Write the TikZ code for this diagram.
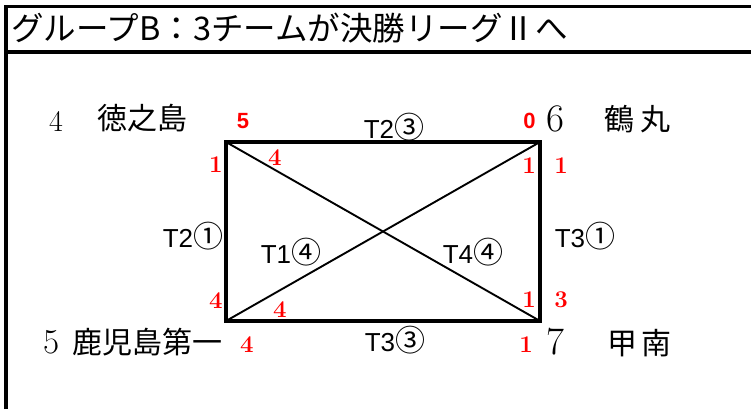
\documentclass[tikz,border=0pt]{standalone}
\usepackage{fontspec}
\newfontfamily\cjk{Noto Sans CJK JP}
\newfontfamily\arial{Liberation Sans}
\newcommand{\circd}[1]{{\cjk\fontsize{30}{30}\selectfont #1}}
\begin{document}
\begin{tikzpicture}[x=1pt,y=-1pt,
  frame/.style={line width=3.2pt},
  boxline/.style={line width=3.2pt, line join=miter},
  diag/.style={line width=1.9pt},
  score/.style={text=red, font=\fontsize{24}{24}\selectfont\bfseries, inner sep=0pt},
  scoresans/.style={text=red, font=\arial\fontsize{22}{22}\selectfont\bfseries, inner sep=0pt},
  team/.style={font=\cjk\fontsize{30}{30}\selectfont, inner sep=0pt},
  seed/.style={font=\fontsize{30}{30}\selectfont, inner sep=0pt},
  match/.style={font=\arial\fontsize{26}{26}\selectfont, inner sep=0pt},
  title/.style={font=\cjk\fontsize{32.5}{33}\selectfont, inner sep=0pt, anchor=west}]
\useasboundingbox (0,0) rectangle (751,409);
% frame
\draw[frame] (6,409) -- (6,6.5) -- (751,6.5);
\draw[frame] (6,52) -- (751,52);
\node[title] (ttl) at (11,28) {グループB：3チームが決勝リーグⅡへ};
% corners
\coordinate (tl) at (226,142);
\coordinate (tr) at (540,142);
\coordinate (br) at (540,321);
\coordinate (bl) at (226,321);
\draw[boxline] (tl) -- (tr) -- (br) -- (bl) -- cycle;
\draw[diag] (tl) -- (br);
\draw[diag] (tr) -- (bl);
% teams
\node[seed] (s4) at (56,121) {4};
\node[team] (n4) at (142,118) {徳之島};
\node[seed, font=\fontsize{39}{39}\selectfont] (s6) at (555,119) {6};
\node[team] (n6) at (637,119) {鶴\hspace{6pt}丸};
\node[seed, font=\fontsize{35}{35}\selectfont] (s5) at (52,342) {5};
\node[team] (n5) at (147,342) {鹿児島第一};
\node[seed, font=\fontsize{39}{39}\selectfont] (s7) at (555,342) {7};
\node[team] (n7) at (639,343) {甲\hspace{4pt}南};
% matches
\node[match] (m1) at (394,127) {T2\circd{③}};
\node[match] (m2) at (193,236) {T2\circd{①}};
\node[match] (m3) at (291,252) {T1\circd{④}};
\node[match] (m4) at (473,252) {T4\circd{④}};
\node[match] (m5) at (585,236) {T3\circd{①}};
\node[match] (m6) at (395,340) {T3\circd{③}};
% scores
\node[scoresans] (a1) at (243,121) {5};
\node[scoresans] (a2) at (529.5,121) {0};
\node[score] (a3) at (216,165) {1};
\node[score] (a4) at (275,158) {4};
\node[score] (a5) at (529,166) {1};
\node[score] (a6) at (561,166) {1};
\node[score] (a7) at (216,301) {4};
\node[score] (a8) at (280,310) {4};
\node[score] (a9) at (529,300) {1};
\node[score] (a10) at (561,300) {3};
\node[score] (a11) at (247,345) {4};
\node[score] (a12) at (526,345) {1};
\end{tikzpicture}
\end{document}
